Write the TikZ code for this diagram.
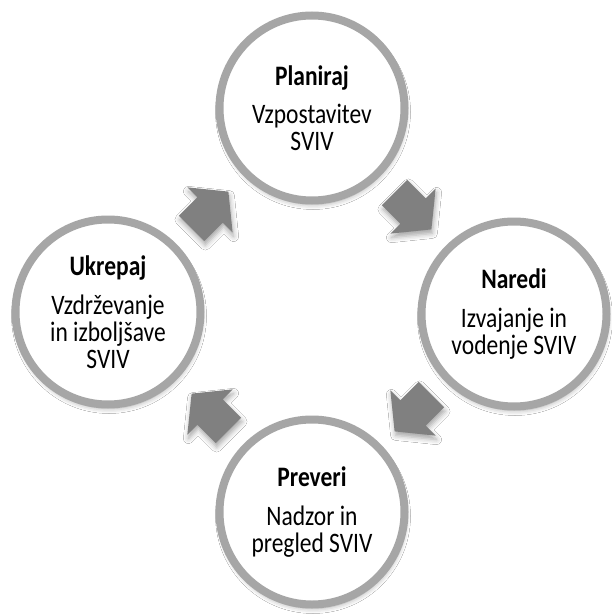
\documentclass[tikz,border=0pt]{standalone}
\usepackage{fontspec}
\setmainfont{Carlito}
\usetikzlibrary{calc,shadows.blur}

\definecolor{ringgray}{RGB}{166,166,166}
\definecolor{arrowgray}{RGB}{128,128,128}

\tikzset{
  softshadow/.style={blur shadow={shadow xshift=1pt, shadow yshift=-4pt,
      shadow blur radius=5pt, shadow opacity=35}},
  stage/.style={circle, draw=ringgray, line width=8pt, fill=white,
    minimum size=185pt, inner sep=0pt, softshadow},
  stagetext/.style={align=center, inner sep=0pt, transform shape,
    yscale=1.2, font=\fontsize{23.5}{22.5}\selectfont},
  pics/cyclearrow/.style={code={
    \fill[arrowgray, softshadow]
      (-26,-18) -- (0,-18) -- (0,-32) -- (26,0) -- (0,32) -- (0,18)
      -- (-26,18) -- cycle;
  }}
}

\begin{document}
\begin{tikzpicture}[x=1pt, y=-1pt]
  \useasboundingbox (0,0) rectangle (612,615);
  \fill[white] (0,0) rectangle (612,615);

  % the four stages of the cycle
  \node[stage] (plan)  at (312,108) {};
  \node[stage] (do)    at (514,314) {};
  \node[stage] (check) at (312,512) {};
  \node[stage] (act)   at (108,312) {};

  % their titles and descriptions
  \node[stagetext] (plan-text)  at (plan)
    {\textbf{Planiraj}\\[9.5pt]Vzpostavitev\\SVIV};
  \node[stagetext] (do-text)    at (do)
    {\textbf{Naredi}\\[9.5pt]Izvajanje in\\vodenje SVIV};
  \node[stagetext] (check-text) at (check)
    {\textbf{Preveri}\\[9.5pt]Nadzor in\\pregled SVIV};
  \node[stagetext] (act-text)   at (act)
    {\textbf{Ukrepaj}\\[9.5pt]Vzdrževanje\\in izboljšave\\SVIV};

  % block arrows between consecutive stages, running clockwise
  \pic[rotate=-45]  at ($(plan)!0.5!(do)$)    {cyclearrow};
  \pic[rotate=-135] at ($(do)!0.5!(check)$)   {cyclearrow};
  \pic[rotate=135]  at ($(check)!0.5!(act)$)  {cyclearrow};
  \pic[rotate=45]   at ($(act)!0.5!(plan)$)   {cyclearrow};
\end{tikzpicture}
\end{document}
